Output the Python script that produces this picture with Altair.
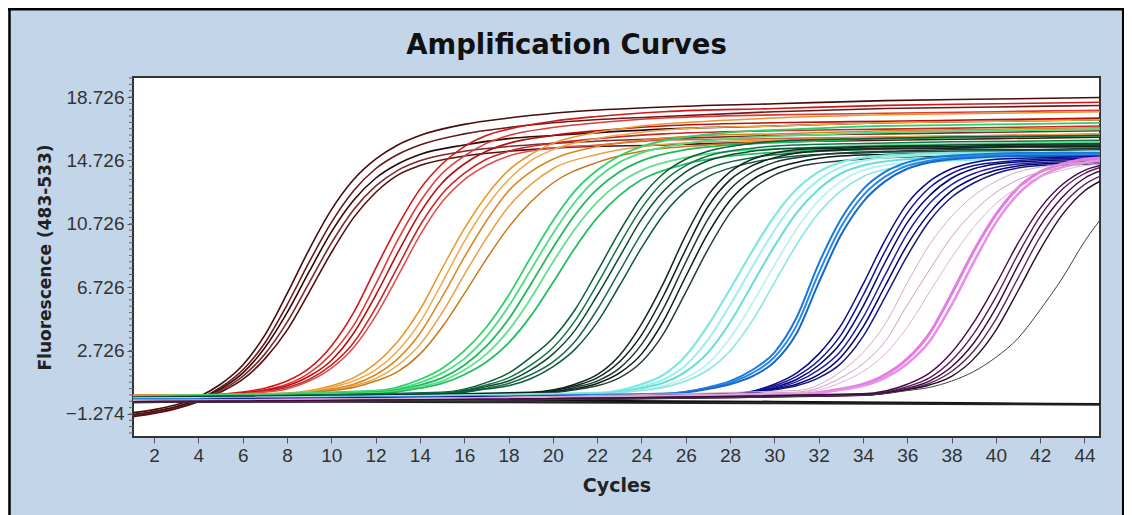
import altair as alt
import pandas as pd

TITLE = "Amplification Curves"
X_TITLE = "Cycles"
Y_TITLE = "Fluorescence (483-533)"
x_ticks = [2, 4, 6, 8, 10, 12, 14, 16, 18, 20, 22, 24, 26, 28, 30, 32, 34, 36, 38, 40, 42, 44]
y_ticks = [-1.274, 0.726, 2.726, 4.726, 6.726, 8.726, 10.726, 12.726, 14.726, 16.726, 18.726]
x_domain = [1.05, 44.7]
y_domain = [-2.73, 19.99]

# ---- curve groups (cycle knots + fluorescence read at those knots) ----
brown_cycles = [1, 2, 3, 4, 5, 6, 7, 8, 9, 10, 11, 12, 13, 14, 16, 18, 20, 25, 30, 35, 40, 45]
brown_curves = [
    [-1.2, -1.0, -0.7, -0.2, 0.6, 1.8, 3.7, 6.3, 9.1, 11.6, 13.5, 14.8, 15.7, 16.3, 17.0, 17.4, 17.7, 18.1, 18.3, 18.5, 18.6, 18.7],
    [-1.3, -1.1, -0.8, -0.35, 0.4, 1.5, 3.2, 5.6, 8.3, 10.8, 12.8, 14.2, 15.1, 15.7, 16.4, 16.8, 17.1, 17.5, 17.8, 18.0, 18.1, 18.2],
    [-1.35, -1.15, -0.85, -0.4, 0.3, 1.3, 2.9, 5.1, 7.7, 10.2, 12.2, 13.6, 14.5, 15.1, 15.7, 16.1, 16.3, 16.7, 16.9, 17.1, 17.2, 17.3],
    [-1.4, -1.2, -0.9, -0.45, 0.2, 1.1, 2.5, 4.5, 7.0, 9.5, 11.6, 13.1, 14.1, 14.7, 15.3, 15.6, 15.8, 16.1, 16.3, 16.4, 16.5, 16.6],
    [-1.45, -1.25, -0.95, -0.5, 0.1, 0.9, 2.2, 4.0, 6.4, 8.9, 11.1, 12.7, 13.8, 14.4, 15.0, 15.3, 15.5, 15.7, 15.9, 16.0, 16.1, 16.2],
]
brown_colors = ["#4a0c0c", "#6a1818", "#300808", "#7a2c2c", "#551010"]
brown_widths = [1.6, 1.6, 1.6, 1.6, 1.6]

red_cycles = [1, 4, 6, 7, 8, 9, 10, 11, 12, 13, 14, 15, 16, 17, 18, 20, 22, 25, 30, 35, 40, 45]
red_curves = [
    [-0.1, -0.1, 0.1, 0.35, 0.8, 1.6, 3.0, 5.1, 7.9, 10.6, 12.9, 14.5, 15.6, 16.3, 16.7, 17.2, 17.5, 17.8, 18.0, 18.2, 18.3, 18.4],
    [-0.1, -0.1, 0.05, 0.25, 0.6, 1.3, 2.5, 4.3, 6.9, 9.7, 12.1, 13.9, 15.0, 15.8, 16.3, 16.8, 17.1, 17.4, 17.6, 17.7, 17.8, 17.9],
    [-0.1, -0.1, 0.05, 0.2, 0.5, 1.1, 2.1, 3.8, 6.2, 8.9, 11.4, 13.3, 14.5, 15.3, 15.8, 16.3, 16.6, 16.9, 17.1, 17.2, 17.3, 17.4],
    [-0.1, -0.1, 0.0, 0.15, 0.4, 0.9, 1.8, 3.2, 5.4, 8.0, 10.6, 12.6, 13.9, 14.8, 15.3, 15.8, 16.1, 16.4, 16.6, 16.7, 16.8, 16.9],
    [-0.1, -0.1, 0.0, 0.1, 0.3, 0.8, 1.6, 2.9, 4.9, 7.4, 10.0, 12.1, 13.5, 14.4, 15.0, 15.5, 15.7, 16.0, 16.1, 16.2, 16.3, 16.4],
]
red_colors = ["#d01818", "#e03a3a", "#b80f0f", "#c82828", "#e05050"]
red_widths = [1.6, 1.6, 1.6, 1.6, 1.6]

orange_cycles = [1, 8, 10, 11, 12, 13, 14, 15, 16, 17, 18, 19, 20, 22, 24, 27, 30, 35, 40, 45]
orange_curves = [
    [-0.1, 0.05, 0.5, 1.0, 1.9, 3.3, 5.3, 7.9, 10.4, 12.5, 14.1, 15.1, 15.8, 16.5, 16.9, 17.2, 17.4, 17.6, 17.7, 17.8],
    [-0.1, 0.0, 0.4, 0.8, 1.5, 2.7, 4.5, 7.0, 9.6, 11.8, 13.5, 14.7, 15.4, 16.1, 16.5, 16.8, 16.9, 17.1, 17.2, 17.3],
    [-0.15, -0.05, 0.3, 0.6, 1.2, 2.2, 3.8, 6.1, 8.6, 10.9, 12.8, 14.0, 14.8, 15.6, 16.0, 16.3, 16.4, 16.6, 16.7, 16.8],
    [-0.15, -0.05, 0.25, 0.5, 0.95, 1.8, 3.1, 5.1, 7.5, 9.8, 11.8, 13.2, 14.2, 15.1, 15.6, 15.9, 16.0, 16.2, 16.3, 16.4],
    [-0.15, -0.05, 0.2, 0.4, 0.8, 1.4, 2.5, 4.2, 6.3, 8.5, 10.5, 12.1, 13.3, 14.6, 15.3, 15.7, 15.9, 16.1, 16.2, 16.3],
]
orange_colors = ["#e8952a", "#f0a848", "#d9861c", "#eaa040", "#c97818"]
orange_widths = [1.5, 1.5, 1.5, 1.5, 1.5]

green_cycles = [1, 12, 14, 15, 16, 17, 18, 19, 20, 21, 22, 23, 24, 26, 28, 31, 35, 40, 45]
green_curves = [
    [-0.15, 0.2, 0.9, 1.6, 2.7, 4.2, 6.2, 8.6, 10.9, 12.8, 14.1, 15.0, 15.6, 16.2, 16.5, 16.7, 16.9, 17.0, 17.1],
    [-0.15, 0.15, 0.7, 1.3, 2.2, 3.6, 5.5, 7.8, 10.1, 12.1, 13.6, 14.6, 15.2, 15.8, 16.1, 16.3, 16.5, 16.6, 16.7],
    [-0.2, 0.1, 0.55, 1.0, 1.8, 3.0, 4.7, 6.9, 9.2, 11.3, 12.9, 14.0, 14.7, 15.4, 15.7, 15.9, 16.1, 16.2, 16.3],
    [-0.2, 0.05, 0.45, 0.8, 1.5, 2.5, 4.0, 6.0, 8.3, 10.4, 12.1, 13.3, 14.1, 14.9, 15.3, 15.5, 15.7, 15.8, 15.9],
    [-0.2, 0.0, 0.35, 0.65, 1.2, 2.0, 3.2, 4.9, 7.0, 9.2, 11.1, 12.5, 13.5, 14.5, 15.0, 15.3, 15.5, 15.6, 15.7],
]
green_colors = ["#2ed06a", "#4ade80", "#1fb85a", "#5ee08c", "#22c060"]
green_widths = [1.8, 1.8, 1.8, 1.8, 1.8]

dkgreen_cycles = [1, 15, 17, 18, 19, 20, 21, 22, 23, 24, 25, 26, 27, 29, 31, 34, 38, 45]
dkgreen_curves = [
    [-0.2, 0.1, 0.7, 1.3, 2.3, 3.5, 5.3, 7.7, 10.2, 12.4, 13.9, 14.8, 15.3, 15.8, 16.0, 16.1, 16.2, 16.3],
    [-0.2, 0.05, 0.55, 1.0, 1.8, 2.9, 4.6, 6.9, 9.4, 11.7, 13.4, 14.4, 15.0, 15.5, 15.7, 15.8, 15.9, 16.0],
    [-0.25, 0.0, 0.45, 0.8, 1.5, 2.5, 4.0, 6.2, 8.6, 11.0, 12.8, 14.0, 14.7, 15.3, 15.5, 15.6, 15.7, 15.8],
    [-0.25, 0.0, 0.35, 0.65, 1.2, 2.0, 3.3, 5.3, 7.7, 10.1, 12.1, 13.4, 14.2, 14.9, 15.2, 15.4, 15.5, 15.6],
    [-0.25, -0.05, 0.3, 0.5, 0.95, 1.7, 2.8, 4.5, 6.8, 9.2, 11.3, 12.8, 13.7, 14.6, 15.0, 15.2, 15.3, 15.4],
]
dkgreen_colors = ["#0a5c38", "#137448", "#0d4a30", "#1a6a48", "#0f5a3c"]
dkgreen_widths = [1.5, 1.5, 1.5, 1.5, 1.5]

black_cycles = [1, 19, 21, 22, 23, 24, 25, 26, 27, 28, 29, 30, 31, 33, 35, 38, 41, 45]
black_curves = [
    [-0.25, 0.1, 0.6, 1.2, 2.4, 4.4, 7.0, 10.0, 12.5, 14.0, 14.8, 15.2, 15.4, 15.5, 15.6, 15.6, 15.7, 15.7],
    [-0.25, 0.05, 0.5, 1.0, 2.0, 3.7, 6.2, 9.1, 11.8, 13.5, 14.4, 14.9, 15.2, 15.4, 15.5, 15.5, 15.6, 15.6],
    [-0.3, 0.0, 0.4, 0.8, 1.6, 3.1, 5.4, 8.3, 11.0, 12.9, 14.0, 14.6, 14.9, 15.2, 15.3, 15.4, 15.4, 15.5],
    [-0.3, 0.0, 0.3, 0.65, 1.3, 2.5, 4.6, 7.4, 10.1, 12.2, 13.5, 14.2, 14.6, 15.0, 15.1, 15.2, 15.2, 15.3],
    [-0.3, -0.05, 0.25, 0.5, 1.0, 2.0, 3.8, 6.4, 9.1, 11.4, 12.9, 13.8, 14.3, 14.7, 14.9, 15.0, 15.0, 15.1],
]
black_colors = ["#0e2a22", "#142018", "#1e3a30", "#0a1a14", "#2a3c36"]
black_widths = [1.5, 1.5, 1.5, 1.5, 1.5]

cyan_cycles = [1, 22, 24, 25, 26, 27, 28, 29, 30, 31, 32, 33, 34, 36, 38, 41, 45]
cyan_curves = [
    [-0.3, 0.05, 0.6, 1.2, 2.4, 4.3, 6.6, 9.0, 11.2, 12.9, 14.0, 14.6, 14.9, 15.1, 15.2, 15.2, 15.3],
    [-0.3, 0.0, 0.45, 0.9, 1.8, 3.4, 5.6, 8.0, 10.3, 12.2, 13.5, 14.3, 14.7, 15.0, 15.1, 15.1, 15.2],
    [-0.35, 0.0, 0.35, 0.7, 1.4, 2.6, 4.5, 6.9, 9.3, 11.4, 12.9, 13.9, 14.4, 14.8, 14.9, 15.0, 15.0],
    [-0.35, -0.05, 0.25, 0.5, 1.0, 1.9, 3.5, 5.7, 8.1, 10.4, 12.2, 13.4, 14.1, 14.6, 14.8, 14.9, 14.9],
    [-0.35, -0.05, 0.2, 0.4, 0.8, 1.5, 2.7, 4.6, 7.0, 9.4, 11.4, 12.8, 13.7, 14.4, 14.7, 14.8, 14.8],
]
cyan_colors = ["#7ee8e0", "#9cf0ea", "#66dcd8", "#b4f2ee", "#88e6e6"]
cyan_widths = [2.2, 2.0, 2.0, 1.6, 1.6]

blue_cycles = [1, 25, 27, 28, 29, 30, 31, 32, 33, 34, 35, 36, 37, 39, 41, 45]
blue_curves = [
    [-0.35, 0.0, 0.4, 0.8, 1.5, 2.6, 4.8, 8.2, 11.0, 12.9, 14.0, 14.6, 14.9, 15.1, 15.2, 15.2],
    [-0.35, 0.0, 0.35, 0.7, 1.3, 2.3, 4.3, 7.6, 10.5, 12.5, 13.7, 14.4, 14.7, 15.0, 15.1, 15.1],
    [-0.4, -0.05, 0.3, 0.6, 1.1, 2.0, 3.8, 7.0, 10.0, 12.1, 13.4, 14.2, 14.6, 14.9, 15.0, 15.0],
]
blue_colors = ["#1a78d8", "#2a88e8", "#1468c8"]
blue_widths = [2.0, 2.0, 2.0]

navy_cycles = [1, 28, 30, 31, 32, 33, 34, 35, 36, 37, 38, 39, 40, 42, 45]
navy_curves = [
    [-0.4, 0.0, 0.6, 1.3, 2.5, 4.3, 6.9, 9.7, 12.0, 13.4, 14.2, 14.6, 14.8, 14.9, 15.0],
    [-0.4, 0.0, 0.5, 1.1, 2.1, 3.7, 6.2, 9.0, 11.4, 13.0, 13.9, 14.4, 14.6, 14.8, 14.9],
    [-0.4, -0.05, 0.4, 0.9, 1.8, 3.2, 5.5, 8.3, 10.8, 12.5, 13.6, 14.2, 14.5, 14.7, 14.8],
    [-0.45, -0.05, 0.35, 0.75, 1.5, 2.7, 4.8, 7.5, 10.1, 12.0, 13.2, 13.9, 14.3, 14.6, 14.7],
    [-0.45, -0.05, 0.3, 0.6, 1.2, 2.3, 4.2, 6.8, 9.4, 11.4, 12.8, 13.6, 14.1, 14.5, 14.6],
    [-0.45, -0.1, 0.25, 0.5, 1.0, 1.9, 3.6, 6.1, 8.7, 10.9, 12.4, 13.3, 13.9, 14.4, 14.5],
]
navy_colors = ["#0a0a8c", "#141496", "#06066e", "#2020a0", "#000070", "#1a1a80"]
navy_widths = [1.5, 1.5, 1.5, 1.5, 1.5, 1.5]

pink_cycles = [1, 31, 33, 34, 35, 36, 37, 38, 39, 40, 41, 42, 43, 44, 45]
pink_curves = [
    [-0.45, -0.05, 0.3, 0.6, 1.2, 2.2, 3.8, 6.3, 9.0, 11.3, 13.0, 14.0, 14.5, 14.8, 14.9],
    [-0.45, -0.05, 0.25, 0.5, 1.0, 1.9, 3.3, 5.6, 8.3, 10.8, 12.6, 13.7, 14.3, 14.6, 14.8],
    [-0.45, 0.2, 1.4, 2.6, 4.4, 7.0, 9.4, 11.2, 12.5, 13.4, 14.0, 14.3, 14.5, 14.6, 14.7],
    [-0.45, 0.1, 1.0, 1.9, 3.3, 5.6, 7.8, 9.9, 11.5, 12.7, 13.5, 14.0, 14.3, 14.5, 14.6],
    [-0.45, 0.05, 0.7, 1.4, 2.5, 4.2, 6.4, 8.6, 10.5, 12.0, 13.0, 13.7, 14.1, 14.4, 14.5],
]
pink_colors = ["#e47ce4", "#e890e8", "#d8a8c8", "#c8a0c0", "#e0b0d8"]
pink_widths = [3.0, 2.6, 1.0, 1.0, 1.0]

purple_cycles = [1, 34, 36, 37, 38, 39, 40, 41, 42, 43, 44, 45]
purple_curves = [
    [-0.5, 0.0, 0.6, 1.3, 2.6, 4.5, 6.9, 9.5, 11.7, 13.2, 14.1, 14.5],
    [-0.5, -0.05, 0.45, 1.0, 2.1, 3.8, 6.1, 8.8, 11.2, 12.9, 13.9, 14.4],
    [-0.5, -0.05, 0.35, 0.8, 1.7, 3.2, 5.4, 8.1, 10.6, 12.4, 13.6, 14.2],
    [-0.55, -0.1, 0.3, 0.65, 1.4, 2.7, 4.7, 7.3, 9.9, 11.9, 13.2, 13.9],
    [-0.55, -0.1, 0.25, 0.55, 1.1, 2.2, 4.0, 6.5, 9.1, 11.3, 12.8, 13.6],
    [-0.55, -0.1, 0.2, 0.4, 0.8, 1.4, 2.3, 3.5, 5.3, 7.3, 9.6, 11.5],
]
purple_colors = ["#4a0a4a", "#5a1a5a", "#3a0a3a", "#602860", "#2a082a", "#404040"]
purple_widths = [1.4, 1.4, 1.4, 1.4, 1.4, 1.0]

neg_cycles = [1, 10, 20, 30, 40, 45]
neg_curves = [
    [-0.35, -0.4, -0.45, -0.5, -0.6, -0.65],
    [-0.45, -0.5, -0.55, -0.6, -0.66, -0.7],
]
neg_colors = ["#111111", "#222222"]
neg_widths = [2.0, 2.0]

groups = [
    ("neg", neg_cycles, neg_curves, neg_colors, neg_widths),
    ("brown", brown_cycles, brown_curves, brown_colors, brown_widths),
    ("red", red_cycles, red_curves, red_colors, red_widths),
    ("orange", orange_cycles, orange_curves, orange_colors, orange_widths),
    ("green", green_cycles, green_curves, green_colors, green_widths),
    ("dkgreen", dkgreen_cycles, dkgreen_curves, dkgreen_colors, dkgreen_widths),
    ("black", black_cycles, black_curves, black_colors, black_widths),
    ("cyan", cyan_cycles, cyan_curves, cyan_colors, cyan_widths),
    ("blue", blue_cycles, blue_curves, blue_colors, blue_widths),
    ("navy", navy_cycles, navy_curves, navy_colors, navy_widths),
    ("pink", pink_cycles, pink_curves, pink_colors, pink_widths),
    ("purple", purple_cycles, purple_curves, purple_colors, purple_widths),
]

rows = []
for gname, cyc, curves, cols, wids in groups:
    for i, ys in enumerate(curves):
        for c, v in zip(cyc, ys):
            rows.append({"cycle": c, "value": v, "curve": f"{gname}_{i}",
                         "color": cols[i], "width": wids[i]})
df = pd.DataFrame(rows)

BG = "#c3d5e9"
LABEL_FONT = "Liberation Sans"
TITLE_FONT = "DejaVu Sans"

x_scale = alt.Scale(domain=x_domain, nice=False, zero=False)
y_scale = alt.Scale(domain=y_domain, nice=False, zero=False)

lines = alt.Chart(df).mark_line(interpolate="monotone", clip=True,
                                strokeCap="round", strokeJoin="round").encode(
    x=alt.X("cycle:Q", scale=x_scale,
            axis=alt.Axis(values=x_ticks, title=X_TITLE, grid=False, domain=False,
                          tickSize=6, tickColor="#555", tickWidth=1,
                          labelFont=LABEL_FONT, labelFontSize=19, labelColor="#333",
                          labelPadding=3, labelFlush=False,
                          titleFont=TITLE_FONT, titleFontSize=19, titleFontWeight="bold",
                          titleColor="#222", titlePadding=11)),
    y=alt.Y("value:Q", scale=y_scale,
            axis=alt.Axis(values=y_ticks, format=".3f", title=Y_TITLE, grid=False,
                          domain=False, tickSize=6, tickColor="#555", tickWidth=1,
                          labelFont=LABEL_FONT, labelFontSize=19, labelColor="#333",
                          labelPadding=3, labelFlush=False,
                          titleFont=TITLE_FONT, titleFontSize=17, titleFontWeight="bold",
                          titleColor="#222", titlePadding=11)),
    detail="curve:N",
    color=alt.Color("color:N", scale=None),
    strokeWidth=alt.StrokeWidth("width:Q", scale=None),
)

# minor ticks on the y axis
minor_vals = [round(-2.474 + 0.4 * k, 3) for k in range(0, 57)]
minor_vals = [v for v in minor_vals if y_domain[0] < v < y_domain[1]]
minor_df = pd.DataFrame({"value": minor_vals})
minor = alt.Chart(minor_df).mark_rule(color="#666", strokeWidth=1).encode(
    y=alt.Y("value:Q", scale=y_scale),
    x=alt.value(-4), x2=alt.value(0),
)

# outer frame of the figure
frame_df = pd.DataFrame({"k": [0]})
frame_left = alt.Chart(frame_df).mark_rule(color="#000", strokeWidth=2.5).encode(
    x=alt.value(-123.5), y=alt.value(-69), y2=alt.value(440))
frame_top = alt.Chart(frame_df).mark_rule(color="#000", strokeWidth=2.5).encode(
    y=alt.value(-67.8), x=alt.value(-125), x2=alt.value(992))
frame_right = alt.Chart(frame_df).mark_rule(color="#000", strokeWidth=2.5).encode(
    x=alt.value(990.2), y=alt.value(-69), y2=alt.value(440))

chart = alt.layer(lines, minor, frame_left, frame_top, frame_right).properties(
    width=967, height=360,
    padding={"left": 125, "top": 69, "right": 24, "bottom": 78},
    autosize=alt.AutoSizeParams(type="none"),
    title=alt.TitleParams(TITLE, font=TITLE_FONT, fontSize=27.5, fontWeight="bold",
                          color="#111", anchor="middle", offset=-75, dx=-50,
                          baseline="alphabetic"),
).configure(background=BG).configure_view(fill="white", stroke="#333", strokeWidth=2)

chart.save("out.html", embed_options={"renderer": "svg", "actions": False})
